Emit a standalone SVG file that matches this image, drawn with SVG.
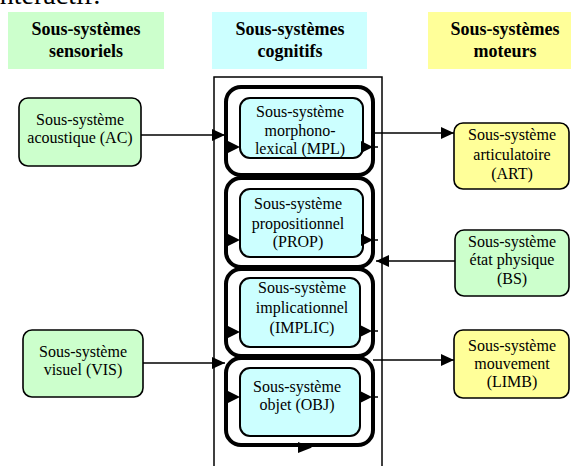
<svg xmlns="http://www.w3.org/2000/svg" width="571" height="466" viewBox="0 0 571 466">
<defs>
<style>
.hdr{font-family:"Liberation Serif",serif;font-weight:bold;font-size:18px;text-anchor:middle;fill:#000}
.t{font-family:"Liberation Serif",serif;font-size:16px;text-anchor:middle;fill:#000}
.node{stroke:#000;stroke-width:1.6}
.outer{fill:#fff;stroke:#000;stroke-width:4}
.inner{fill:#ccffff;stroke:#000;stroke-width:2}
.green{fill:#ccffcc}
.yellow{fill:#ffff99}
.cyan{fill:#ccffff}
.ln{stroke:#000;stroke-width:1.5;fill:none}
.ah{fill:#000}
</style>
<marker id="arr" markerWidth="14" markerHeight="12" refX="13" refY="6" orient="auto" markerUnits="userSpaceOnUse">
<path d="M0,0 L13,6 L0,12 Z" fill="#000"/>
</marker>
</defs>
<rect width="571" height="466" fill="#fff"/>
<text x="-8" y="4" font-family="Liberation Serif, serif" font-size="28">interactif:</text>

<g id="hdr-sensoriels">
<rect x="8" y="12" width="156" height="57" class="green"/>
<text x="86" y="35" class="hdr">Sous-systèmes</text>
<text x="86" y="57" class="hdr">sensoriels</text>
</g>
<g id="hdr-cognitifs">
<rect x="212" y="12" width="155" height="57" class="cyan"/>
<text x="290" y="35" class="hdr">Sous-systèmes</text>
<text x="290" y="57" class="hdr">cognitifs</text>
</g>
<g id="hdr-moteurs">
<rect x="428" y="12" width="143" height="57" class="yellow"/>
<text x="505" y="35" class="hdr">Sous-systèmes</text>
<text x="505" y="57" class="hdr">moteurs</text>
</g>

<g id="cognitive-frame">
<rect x="214" y="77" width="168" height="400" fill="none" stroke="#000" stroke-width="1.5"/>
</g>

<g id="MPL">
<rect x="226" y="87" width="147" height="88" rx="15" class="outer"/>
<rect x="240" y="98" width="123" height="60" rx="10" class="inner"/>
<text x="300" y="117" class="t">Sous-système</text>
<text x="300" y="136" class="t">morphono-</text>
<text x="300" y="154" class="t">lexical (MPL)</text>
</g>
<g id="PROP">
<rect x="226" y="178" width="147" height="89" rx="15" class="outer"/>
<rect x="240" y="189" width="123" height="68" rx="10" class="inner"/>
<text x="298" y="209" class="t">Sous-système</text>
<text x="298" y="229" class="t">propositionnel</text>
<text x="298" y="247" class="t">(PROP)</text>
</g>
<g id="IMPLIC">
<rect x="226" y="269" width="147" height="87" rx="15" class="outer"/>
<rect x="240" y="278" width="120" height="69" rx="10" class="inner"/>
<text x="302" y="293" class="t">Sous-système</text>
<text x="302" y="313" class="t">implicationnel</text>
<text x="302" y="333" class="t">(IMPLIC)</text>
</g>
<g id="OBJ">
<rect x="226" y="358" width="147" height="87" rx="15" class="outer"/>
<rect x="240" y="368" width="120" height="68" rx="10" class="inner"/>
<text x="297" y="392" class="t">Sous-système</text>
<text x="297" y="410" class="t">objet (OBJ)</text>
</g>

<g id="AC">
<rect x="19" y="98" width="122" height="68" rx="9" class="node green"/>
<text x="80" y="125" class="t">Sous-système</text>
<text x="80" y="143" class="t">acoustique (AC)</text>
</g>
<g id="VIS">
<rect x="23" y="330" width="120" height="67" rx="9" class="node green"/>
<text x="83" y="357" class="t">Sous-système</text>
<text x="83" y="375" class="t">visuel (VIS)</text>
</g>
<g id="ART">
<rect x="454" y="123" width="115" height="66" rx="9" class="node yellow"/>
<text x="512" y="140" class="t">Sous-système</text>
<text x="512" y="160" class="t">articulatoire</text>
<text x="512" y="179" class="t">(ART)</text>
</g>
<g id="BS">
<rect x="455" y="230" width="114" height="66" rx="9" class="node green"/>
<text x="512" y="247" class="t">Sous-système</text>
<text x="512" y="265" class="t">état physique</text>
<text x="512" y="284" class="t">(BS)</text>
</g>
<g id="LIMB">
<rect x="454" y="330" width="115" height="68" rx="9" class="node yellow"/>
<text x="512" y="351" class="t">Sous-système</text>
<text x="512" y="369" class="t">mouvement</text>
<text x="512" y="387" class="t">(LIMB)</text>
</g>

<g id="connectors">
<line x1="141" y1="135" x2="225" y2="135" class="ln" marker-end="url(#arr)"/>
<line x1="143" y1="363" x2="225" y2="363" class="ln" marker-end="url(#arr)"/>
<line x1="373" y1="133" x2="454" y2="133" class="ln" marker-end="url(#arr)"/>
<line x1="455" y1="261" x2="376" y2="261" class="ln" marker-end="url(#arr)"/>
<line x1="373" y1="360" x2="454" y2="360" class="ln" marker-end="url(#arr)"/>
<polygon points="228,141 240,147 228,153" class="ah"/>
<polygon points="361,141 373,147 361,153" class="ah"/>
<line x1="373" y1="147" x2="378" y2="147" class="ln"/>
<polygon points="228,234 240,240 228,246" class="ah"/>
<polygon points="361,234 373,240 361,246" class="ah"/>
<line x1="373" y1="240" x2="378" y2="240" class="ln"/>
<polygon points="228,326 240,332 228,338" class="ah"/>
<polygon points="360,325 372,331 360,337" class="ah"/>
<line x1="372" y1="331" x2="378" y2="331" class="ln"/>
<polygon points="228,391 240,397 228,403" class="ah"/>
<polygon points="360,391 372,397 360,403" class="ah"/>
<line x1="372" y1="397" x2="378" y2="397" class="ln"/>
<polygon points="298,442 312,447.5 298,453" class="ah"/>
</g>
</svg>
